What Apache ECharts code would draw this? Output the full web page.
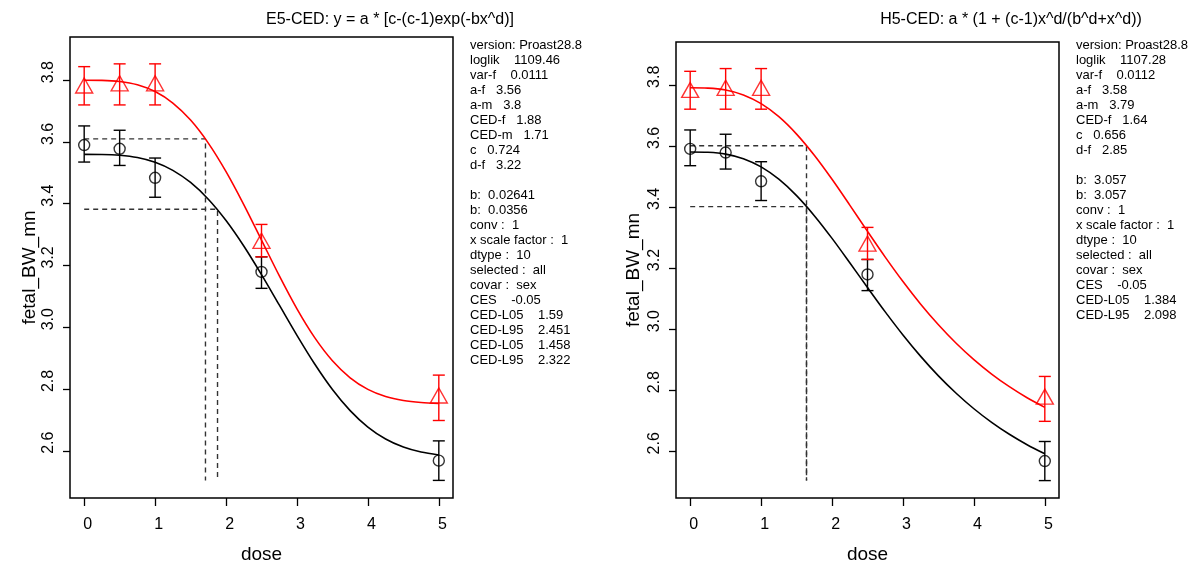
<!DOCTYPE html>
<html><head><meta charset="utf-8">
<script src="https://cdn.jsdelivr.net/npm/echarts@6/dist/echarts.min.js"></script>
<style>html,body{margin:0;padding:0;background:#fff}#c{width:1190px;height:569px}</style>
</head><body><div id="c"></div>
<script>
// ---------------- data ----------------
const doses = [0, 0.5, 1, 2.5, 5];
const femaleMean = [3.590, 3.578, 3.484, 3.179, 2.568];
const femaleLo   = [3.535, 3.524, 3.421, 3.126, 2.504];
const femaleHi   = [3.652, 3.638, 3.548, 3.228, 2.632];
const maleMean   = [3.783, 3.790, 3.790, 3.280, 2.779];
const maleLo     = [3.720, 3.720, 3.720, 3.228, 2.698];
const maleHi     = [3.844, 3.853, 3.853, 3.333, 2.845];

const curveX   = [0,0.25,0.5,0.75,1,1.25,1.5,1.75,2,2.25,2.5,2.75,3,3.25,3.5,3.75,4,4.25,4.5,4.75,5];
const e5Female = [3.56,3.5597,3.5572,3.5498,3.5344,3.5082,3.4688,3.4147,3.3456,3.2632,3.1705,3.0722,2.9737,2.8809,2.7985,2.7300,2.6766,2.6380,2.6119,2.5957,2.5863];
const e5Male   = [3.8,3.7996,3.7960,3.7853,3.7633,3.7261,3.6709,3.5964,3.5039,3.3972,3.2823,3.1671,3.0596,2.9664,2.8916,2.8364,2.7989,2.7757,2.7627,2.7561,2.7531];
const h5Female = [3.58,3.5790,3.5730,3.5579,3.5311,3.4907,3.4369,3.3714,3.2970,3.2173,3.1361,3.0564,2.9808,2.9107,2.8470,2.7899,2.7392,2.6947,2.6556,2.6215,2.5917];
const h5Male   = [3.79,3.7890,3.7826,3.7667,3.7382,3.6955,3.6385,3.5691,3.4904,3.4060,3.3200,3.2357,3.1556,3.0814,3.0140,2.9535,2.8999,2.8527,2.8114,2.7752,2.7437];

// CED dashed guides: [ced dose, response level]
const e5CedLines = [[1.71, 3.610], [1.88, 3.382]];
const h5CedLines = [[1.64, 3.6005], [1.64, 3.401]];
const cedFloor = 2.504;

const xTicks = [0, 1, 2, 3, 4, 5];
const yTicks = [2.6, 2.8, 3.0, 3.2, 3.4, 3.6, 3.8];

const titles = ['E5-CED: y = a * [c-(c-1)exp(-bx^d)]', 'H5-CED: a * (1 + (c-1)x^d/(b^d+x^d))'];
const xName = 'dose';
const yName = 'fetal_BW_mn';

const paramsLeft = [
  'version: Proast28.8','loglik    1109.46','var-f    0.0111','a-f   3.56','a-m   3.8',
  'CED-f   1.88','CED-m   1.71','c   0.724','d-f   3.22','',
  'b:  0.02641','b:  0.0356','conv :  1','x scale factor :  1','dtype :  10',
  'selected :  all','covar :  sex','CES    -0.05','CED-L05    1.59','CED-L95    2.451',
  'CED-L05    1.458','CED-L95    2.322'
];
const paramsRight = [
  'version: Proast28.8','loglik    1107.28','var-f    0.0112','a-f   3.58','a-m   3.79',
  'CED-f   1.64','c   0.656','d-f   2.85','',
  'b:  3.057','b:  3.057','conv :  1','x scale factor :  1','dtype :  10',
  'selected :  all','covar :  sex','CES    -0.05','CED-L05    1.384','CED-L95    2.098'
];

// ---------------- styling ----------------
const FONT = '"Liberation Sans", Arial, sans-serif';
const Y_LABEL_SHIFT = 0.026;
const X_LABEL_SHIFT = 0.05;
const grids = [
  {left: 70, top: 37, width: 383, height: 469},
  {left: 676, top: 42, width: 383, height: 465}
];

const chart = echarts.init(document.getElementById('c'), null, {renderer: 'canvas'});

function xAxisFor(i) {
  return {
    gridIndex: i, type: 'value', min: -0.2, max: 5.2,
    axisLine: {show: false, onZero: false},
    splitLine: {show: false},
    axisTick: {show: true, length: 8, customValues: xTicks, lineStyle: {color: '#000', width: 1.3}},
    axisLabel: {color: '#000', fontSize: 16, fontFamily: FONT, margin: 19,
      customValues: xTicks.map(v => v + X_LABEL_SHIFT),
      formatter: v => String(Math.round(v - X_LABEL_SHIFT))},
    name: xName, nameLocation: 'middle', nameGap: 47,
    nameTextStyle: {color: '#000', fontSize: 19, fontFamily: FONT}
  };
}
function yAxisFor(i) {
  return {
    gridIndex: i, type: 'value', min: 2.447, max: 3.94,
    axisLine: {show: false, onZero: false},
    splitLine: {show: false},
    axisTick: {show: true, length: 7, customValues: yTicks, lineStyle: {color: '#000', width: 1.3}},
    axisLabel: {color: '#000', fontSize: 16, fontFamily: FONT, margin: 13, rotate: 90,
      customValues: yTicks.map(v => v + Y_LABEL_SHIFT),
      formatter: v => (v - Y_LABEL_SHIFT).toFixed(1)},
    name: yName, nameLocation: 'middle', nameGap: i === 0 ? 31 : 33, nameRotate: 90,
    nameTextStyle: {color: '#000', fontSize: 19, fontFamily: FONT}
  };
}

function curve(i, xs, ys, color) {
  return {type: 'line', xAxisIndex: i, yAxisIndex: i, data: xs.map((x, k) => [x, ys[k]]),
    showSymbol: false, smooth: 0.3, silent: true,
    lineStyle: {color: color, width: 1.6}, z: 3};
}
function cedLine(i, ced, level) {
  return {type: 'line', xAxisIndex: i, yAxisIndex: i,
    data: [[0, level], [ced, level], [ced, cedFloor]],
    showSymbol: false, silent: true,
    lineStyle: {color: '#333', width: 1.4, type: [5, 4]}, z: 2};
}
function errBars(i, lo, hi, color) {
  return {type: 'custom', xAxisIndex: i, yAxisIndex: i,
    data: doses.map((d, k) => [d, lo[k], hi[k]]),
    encode: {x: 0, y: [1, 2]}, silent: true, z: 4,
    renderItem: function (params, api) {
      const a = api.coord([api.value(0), api.value(1)]);
      const b = api.coord([api.value(0), api.value(2)]);
      const w = 6;
      const st = {stroke: color, lineWidth: 1.4};
      return {type: 'group', children: [
        {type: 'line', shape: {x1: a[0], y1: a[1], x2: b[0], y2: b[1]}, style: st},
        {type: 'line', shape: {x1: a[0] - w, y1: a[1], x2: a[0] + w, y2: a[1]}, style: st},
        {type: 'line', shape: {x1: b[0] - w, y1: b[1], x2: b[0] + w, y2: b[1]}, style: st}
      ]};
    }};
}
function points(i, means, symbol, size, color) {
  return {type: 'scatter', xAxisIndex: i, yAxisIndex: i,
    data: doses.map((d, k) => [d, means[k]]), symbol: symbol, symbolSize: size, silent: true, z: 5,
    itemStyle: {color: 'rgba(0,0,0,0)', borderColor: color, borderWidth: 1.4}};
}

const series = [];
[[e5Female, e5Male, e5CedLines], [h5Female, h5Male, h5CedLines]].forEach(([fem, mal, ceds], i) => {
  ceds.forEach(([c, lvl]) => series.push(cedLine(i, c, lvl)));
  series.push(curve(i, curveX, fem, '#000'));
  series.push(curve(i, curveX, mal, '#ff0000'));
  series.push(errBars(i, femaleLo, femaleHi, '#000'));
  series.push(errBars(i, maleLo, maleHi, '#ff0000'));
  series.push(points(i, femaleMean, 'circle', 11, '#000'));
  series.push(points(i, maleMean, 'triangle', [17, 15], '#ff0000'));
});

chart.setOption({
  animation: false,
  backgroundColor: '#fff',
  title: [
    {text: titles[0], left: 390, top: 12, textAlign: 'center', padding: 0,
      textStyle: {fontSize: 16, fontWeight: 'normal', color: '#000', fontFamily: FONT}},
    {text: titles[1], left: 1011, top: 12, textAlign: 'center', padding: 0,
      textStyle: {fontSize: 16, fontWeight: 'normal', color: '#000', fontFamily: FONT}}
  ],
  grid: grids.map(g => Object.assign({show: true, borderColor: '#000', borderWidth: 1.5,
    backgroundColor: 'rgba(0,0,0,0)', containLabel: false}, g)),
  xAxis: [xAxisFor(0), xAxisFor(1)],
  yAxis: [yAxisFor(0), yAxisFor(1)],
  series: series,
  graphic: [
    {type: 'text', x: 470, y: 38, silent: true,
      style: {text: paramsLeft.join('\n'), font: '13px ' + FONT, fill: '#000', lineHeight: 15}},
    {type: 'text', x: 1076, y: 38, silent: true,
      style: {text: paramsRight.join('\n'), font: '13px ' + FONT, fill: '#000', lineHeight: 15}}
  ]
});
</script>
</body></html>
